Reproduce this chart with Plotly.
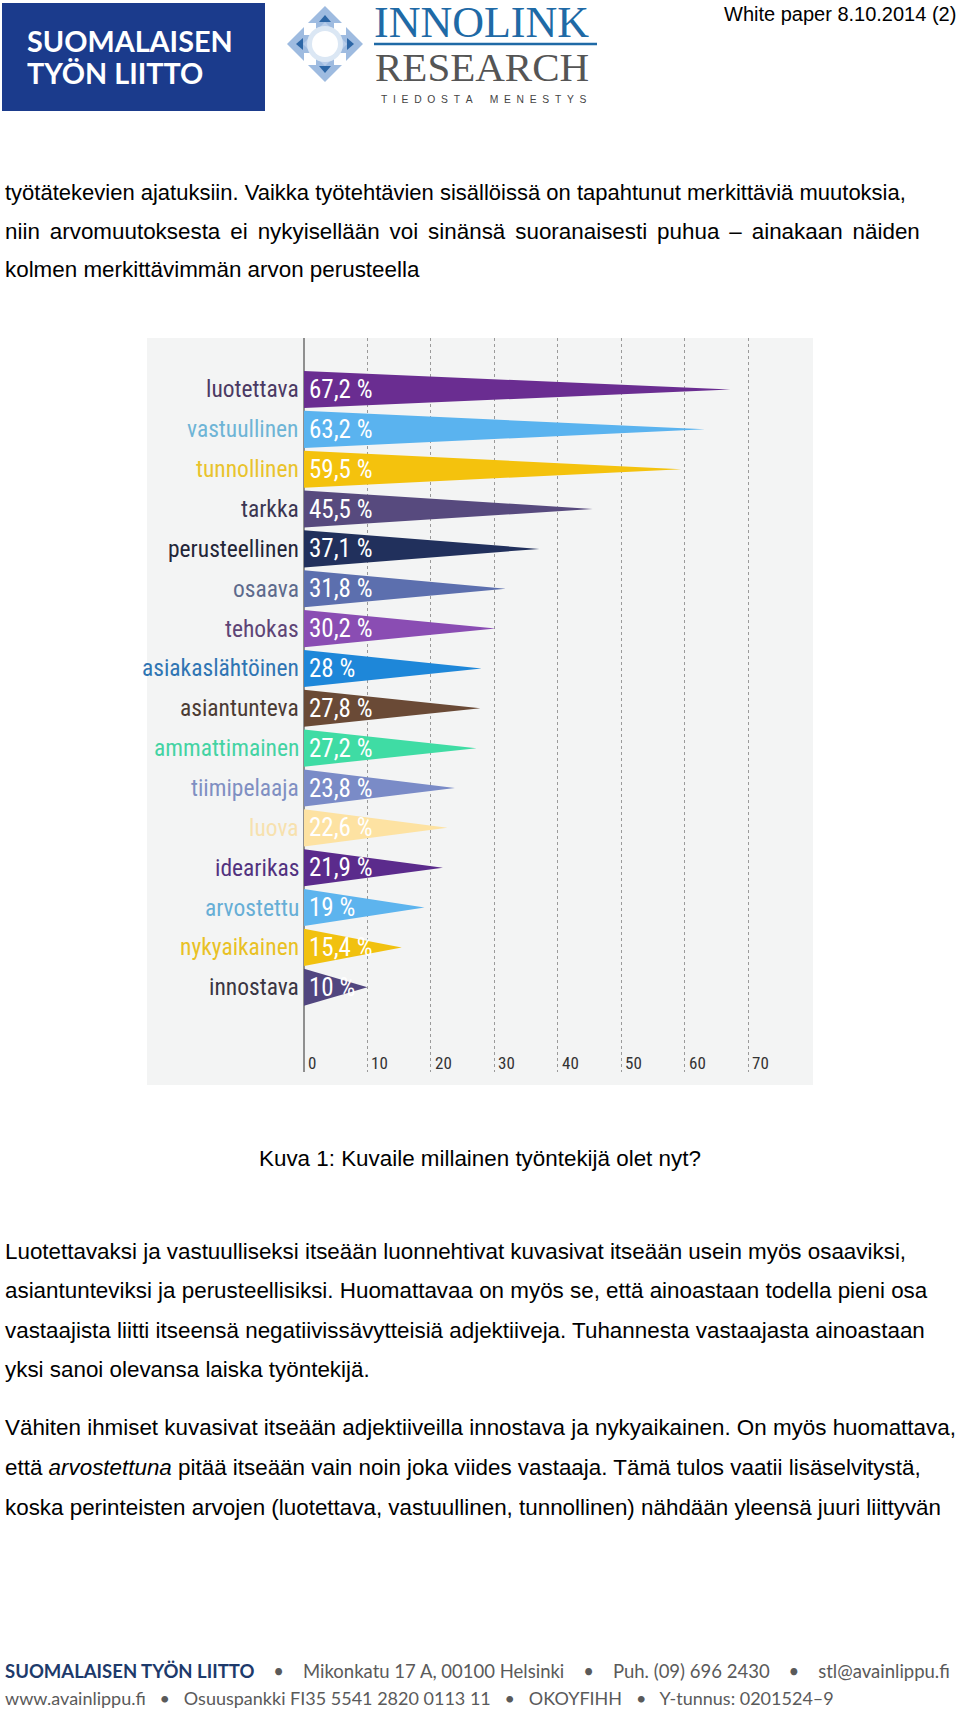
import plotly.graph_objects as go

W, H = 960, 1709

# ---------------- data ----------------
categories = ["luotettava", "vastuullinen", "tunnollinen", "tarkka", "perusteellinen",
              "osaava", "tehokas", "asiakaslähtöinen", "asiantunteva", "ammattimainen",
              "tiimipelaaja", "luova", "idearikas", "arvostettu", "nykyaikainen", "innostava"]
values = [67.2, 63.2, 59.5, 45.5, 37.1, 31.8, 30.2, 28.0, 27.8, 27.2,
          23.8, 22.6, 21.9, 19.0, 15.4, 10.0]
value_labels = ["67,2 %", "63,2 %", "59,5 %", "45,5 %", "37,1 %", "31,8 %", "30,2 %", "28 %",
                "27,8 %", "27,2 %", "23,8 %", "22,6 %", "21,9 %", "19 %", "15,4 %", "10 %"]
bar_colors = ["#6a2d91", "#5ab3ef", "#f4c20d", "#574a7e", "#21305c", "#5c6fae", "#8a4db3",
              "#1e87d9", "#6a4a36", "#3fdca4", "#7a8bc7", "#fde2a2", "#5b2b8c", "#5db4ee",
              "#f1c10f", "#51467f"]
label_colors = ["#4b3a63", "#6eb4d6", "#e9c32c", "#3b3652", "#232638", "#5d6a8c", "#5e4576",
                "#2f75b3", "#4b3b33", "#43d3a3", "#7f8fc2", "#f7e1ae", "#52327f", "#66aed6",
                "#e9c124", "#3a3642"]
tick_values = [0, 10, 20, 30, 40, 50, 60, 70]
tick_labels = ["0", "10", "20", "30", "40", "50", "60", "70"]

body_lines_top = [
    "työtätekevien ajatuksiin. Vaikka työtehtävien sisällöissä on tapahtunut merkittäviä muutoksia,",
    "niin arvomuutoksesta ei nykyisellään voi sinänsä suoranaisesti puhua – ainakaan näiden",
    "kolmen merkittävimmän arvon perusteella",
]
caption = "Kuva 1: Kuvaile millainen työntekijä olet nyt?"
body_lines_p2 = [
    "Luotettavaksi ja vastuulliseksi itseään luonnehtivat kuvasivat itseään usein myös osaaviksi,",
    "asiantunteviksi ja perusteellisiksi. Huomattavaa on myös se, että ainoastaan todella pieni osa",
    "vastaajista liitti itseensä negatiivissävytteisiä adjektiiveja. Tuhannesta vastaajasta ainoastaan",
    "yksi sanoi olevansa laiska työntekijä.",
]
body_lines_p3 = [
    "Vähiten ihmiset kuvasivat itseään adjektiiveilla innostava ja nykyaikainen. On myös huomattava,",
    "että <i>arvostettuna</i> pitää itseään vain noin joka viides vastaaja. Tämä tulos vaatii lisäselvitystä,",
    "koska perinteisten arvojen (luotettava, vastuullinen, tunnollinen) nähdään yleensä juuri liittyvän",
]

# ---------------- helpers ----------------
def fx(px):
    return px / W

def fy(py):
    return 1 - py / H

BODY_FONT = "Liberation Sans, Arial, Helvetica, sans-serif"
NARROW = "Liberation Sans Narrow, Roboto Condensed, DejaVu Sans Condensed, Arial Narrow, sans-serif"
BODY_SIZE = 22.4

# chart geometry (pixels)
X0_PX, PX_PER_UNIT = 304.0, 6.343
PANEL = (147, 338, 813, 1085)
GRID_BOTTOM = 1072
ROW0, ROW_STEP = 389.5, 39.85
HALF = 0.465

xr = [(PANEL[0] - X0_PX) / PX_PER_UNIT, (PANEL[2] - X0_PX) / PX_PER_UNIT]
yr = [(GRID_BOTTOM - ROW0) / ROW_STEP, (PANEL[1] - ROW0) / ROW_STEP]
tick_row = (1063 - ROW0) / ROW_STEP

fig = go.Figure()

# pennants
for i, (c, v, col) in enumerate(zip(categories, values, bar_colors)):
    fig.add_trace(go.Scatter(
        x=[0, v, 0, 0], y=[i - HALF, i, i + HALF, i - HALF],
        mode="lines", fill="toself", fillcolor=col,
        line=dict(width=0, color=col), hoverinfo="skip", showlegend=False,
    ))

annotations = []
for i, (c, lab, lc) in enumerate(zip(categories, value_labels, label_colors)):
    annotations.append(dict(x=0, y=i, xref="x", yref="y", text=c, showarrow=False,
                            xanchor="right", yanchor="middle", xshift=-3,
                            font=dict(family=NARROW, size=23.5, color=lc)))
    annotations.append(dict(x=0, y=i, xref="x", yref="y", text=lab, showarrow=False,
                            xanchor="left", yanchor="middle", xshift=3,
                            font=dict(family=NARROW, size=25, color="white")))
for t, tl in zip(tick_values, tick_labels):
    annotations.append(dict(x=t, y=tick_row, xref="x", yref="y", text=tl, showarrow=False,
                            xanchor="left", yanchor="middle", xshift=2,
                            font=dict(family=NARROW, size=17, color="#333333")))

# page text
def text_ann(txt, x, y, size=BODY_SIZE, color="#000000", family=BODY_FONT, xanchor="left", **kw):
    d = dict(x=fx(x), y=fy(y), xref="paper", yref="paper", text=txt, showarrow=False,
             xanchor=xanchor, yanchor="middle",
             font=dict(family=family, size=size, color=color))
    d.update(kw)
    annotations.append(d)

text_ann(body_lines_top[0], 3, 193, size=22.0)
text_ann(body_lines_top[1].replace(" ", " \u2006"), 3, 231)
text_ann(body_lines_top[2], 3, 269)
text_ann(caption, 480, 1158, xanchor="center")
for k, ln in enumerate(body_lines_p2):
    text_ann(ln, 3, 1251 + 39.6 * k)
for k, ln in enumerate(body_lines_p3):
    text_ann(ln, 3, 1427 + 40 * k)

text_ann("White paper 8.10.2014 (2)", 958, 14, size=20, xanchor="right")

# header logo texts
text_ann("<b>SUOMALAISEN</b>", 25, 41, size=28.8, color="white", family="Lato, Open Sans, sans-serif")
text_ann("<b>TYÖN LIITTO</b>", 25, 73, size=28.8, color="white", family="Lato, Open Sans, sans-serif")
text_ann("INNOLINK", 372, 22, size=44, color="#1f6aa6", family="Liberation Serif, Times New Roman, serif")
text_ann("RESEARCH", 373, 67, size=41, color="#555555", family="Liberation Serif, Times New Roman, serif")
text_ann("T\u00a0\u00a0I\u00a0\u00a0E\u00a0\u00a0D\u00a0\u00a0O\u00a0\u00a0S\u00a0\u00a0T\u00a0\u00a0A\u00a0\u00a0\u00a0\u00a0\u00a0\u00a0M\u00a0\u00a0E\u00a0\u00a0N\u00a0\u00a0E\u00a0\u00a0S\u00a0\u00a0T\u00a0\u00a0Y\u00a0\u00a0S",
         379, 100, size=10.3, color="#444444", family="Liberation Sans, Arial, sans-serif")

# footer
sep1 = "\u00a0\u00a0\u00a0\u00a0•\u00a0\u00a0\u00a0\u00a0"
sep2 = "\u00a0\u00a0\u00a0•\u00a0\u00a0\u00a0"
footer1 = ("<span style='color:#1d3a6b'><b>SUOMALAISEN TYÖN LIITTO</b></span>" + sep1 +
           "Mikonkatu 17 A, 00100 Helsinki" + sep1 + "Puh. (09) 696 2430" + sep1 + "stl@avainlippu.fi")
footer2 = ("www.avainlippu.fi" + sep2 + "Osuuspankki FI35 5541 2820 0113 11" + sep2 +
           "OKOYFIHH" + sep2 + "Y-tunnus: 0201524–9")
text_ann(footer1, 3, 1671, size=18.5, color="#5a5a5a", family="Lato, Open Sans, sans-serif")
text_ann(footer2, 3, 1698, size=18, color="#5a5a5a", family="Lato, Open Sans, sans-serif")

# ---------------- shapes ----------------
shapes = []
# chart panel background
shapes.append(dict(type="rect", xref="paper", yref="paper", x0=fx(PANEL[0]), x1=fx(PANEL[2]),
                   y0=fy(PANEL[3]), y1=fy(PANEL[1]), fillcolor="#f3f4f4", line=dict(width=0),
                   layer="below"))
# header blue box
shapes.append(dict(type="rect", xref="paper", yref="paper", x0=fx(2), x1=fx(265),
                   y0=fy(111), y1=fy(3), fillcolor="#1b3b8c", line=dict(width=0), layer="below"))
# Innolink rule
shapes.append(dict(type="line", xref="paper", yref="paper", x0=fx(374), x1=fx(597),
                   y0=fy(44), y1=fy(44), line=dict(color="#1f6aa6", width=2.5)))

def path_px(points):
    return "M " + " L ".join(f"{fx(x):.5f},{fy(y):.5f}" for x, y in points) + " Z"

cx, cy = 325, 44
cross = [(0, -38), (17, -21), (9, -21), (9, -14), (14, -9), (21, -9), (21, -17), (38, 0),
         (21, 17), (21, 9), (14, 9), (9, 14), (9, 21), (17, 21), (0, 38), (-17, 21), (-9, 21),
         (-9, 14), (-14, 9), (-21, 9), (-21, 17), (-38, 0), (-21, -17), (-21, -9), (-14, -9),
         (-9, -14), (-9, -21), (-17, -21)]
shapes.append(dict(type="path", xref="paper", yref="paper",
                   path=path_px([(cx + a, cy + b) for a, b in cross]),
                   fillcolor="#9ebbe0", line=dict(width=0)))
diag = [(0, -22), (22, 0), (0, 22), (-22, 0)]
shapes.append(dict(type="path", xref="paper", yref="paper",
                   path=path_px([(cx + a, cy + b) for a, b in diag]),
                   fillcolor="#b8cdea", line=dict(width=0)))
shapes.append(dict(type="circle", xref="paper", yref="paper", x0=fx(cx - 18), x1=fx(cx + 18),
                   y0=fy(cy + 18), y1=fy(cy - 18), fillcolor="#dbe7f4", line=dict(width=0)))
shapes.append(dict(type="circle", xref="paper", yref="paper", x0=fx(cx - 13), x1=fx(cx + 13),
                   y0=fy(cy + 13), y1=fy(cy - 13), fillcolor="#ffffff", line=dict(width=0)))
tris = [[(-6, -22), (6, -22), (0, -29)], [(-22, -6), (-22, 6), (-29, 0)],
        [(22, -6), (22, 6), (29, 0)], [(-6, 22), (6, 22), (0, 29)]]
for tri in tris:
    shapes.append(dict(type="path", xref="paper", yref="paper",
                       path=path_px([(cx + a, cy + b) for a, b in tri]),
                       fillcolor="#2c66a6", line=dict(width=0)))

fig.update_layout(
    width=W, height=H, margin=dict(l=0, r=0, t=0, b=0),
    paper_bgcolor="white", plot_bgcolor="rgba(0,0,0,0)",
    xaxis=dict(domain=[fx(PANEL[0]), fx(PANEL[2])], range=xr, tickvals=tick_values,
               showticklabels=False, showgrid=True, gridcolor="#9a9a9a", griddash="dot",
               gridwidth=1, zeroline=True, zerolinecolor="#8f8f8f", zerolinewidth=2,
               showline=False, fixedrange=True),
    yaxis=dict(domain=[fy(GRID_BOTTOM), fy(PANEL[1])], range=yr, visible=False,
               showgrid=False, zeroline=False, fixedrange=True),
    annotations=annotations, shapes=shapes, showlegend=False,
)

fig.write_html("out.html", config={"displayModeBar": False},
               post_script="document.body.style.margin='0px';document.body.style.overflow='hidden';")
